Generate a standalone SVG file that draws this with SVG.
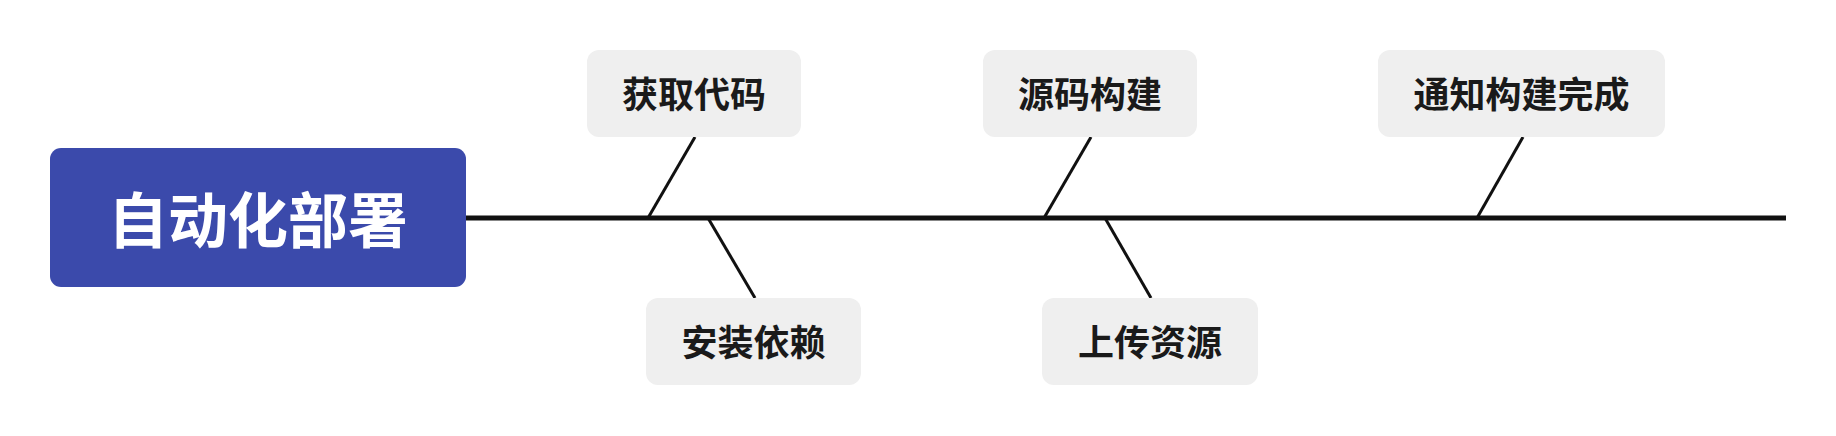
<svg xmlns="http://www.w3.org/2000/svg" width="1836" height="436" viewBox="0 0 1836 436">
<style>
.bg{fill:#ffffff}
.root rect{fill:#3B4AAB}
.root text{fill:#ffffff;font-family:"Noto Sans CJK SC","Noto Sans",sans-serif;font-weight:bold;font-size:60px;text-anchor:middle;dominant-baseline:central}
.sub rect{fill:#EFEFEF}
.sub text{fill:#1a1a1a;font-family:"Noto Sans CJK SC","Noto Sans",sans-serif;font-weight:bold;font-size:36px;text-anchor:middle;dominant-baseline:central}
.spine{stroke:#111111;stroke-width:5;fill:none}
.bone{stroke:#111111;stroke-width:3;fill:none}
</style>
<rect class="bg" x="0" y="0" width="1836" height="436"/>
<g id="connectors">
<line class="spine" x1="466" y1="218" x2="1786" y2="218"/>
<line class="bone" x1="695" y1="137" x2="648" y2="218"/>
<line class="bone" x1="708" y1="218" x2="755" y2="298"/>
<line class="bone" x1="1091" y1="137" x2="1044" y2="218"/>
<line class="bone" x1="1105" y1="218" x2="1151" y2="298"/>
<line class="bone" x1="1523" y1="137" x2="1477" y2="218"/>
</g>
<g id="root" class="root">
<rect x="50" y="148" width="416" height="139" rx="11"/>
<text x="258" y="216">自动化部署</text>
</g>
<g id="n1" class="sub">
<rect x="587" y="50" width="214" height="87" rx="12"/>
<text x="694" y="92">获取代码</text>
</g>
<g id="n2" class="sub">
<rect x="646" y="298" width="215" height="87" rx="12"/>
<text x="753.5" y="340">安装依赖</text>
</g>
<g id="n3" class="sub">
<rect x="983" y="50" width="214" height="87" rx="12"/>
<text x="1090" y="92">源码构建</text>
</g>
<g id="n4" class="sub">
<rect x="1042" y="298" width="216" height="87" rx="12"/>
<text x="1150" y="340">上传资源</text>
</g>
<g id="n5" class="sub">
<rect x="1378" y="50" width="287" height="87" rx="12"/>
<text x="1521.5" y="92">通知构建完成</text>
</g>
</svg>
